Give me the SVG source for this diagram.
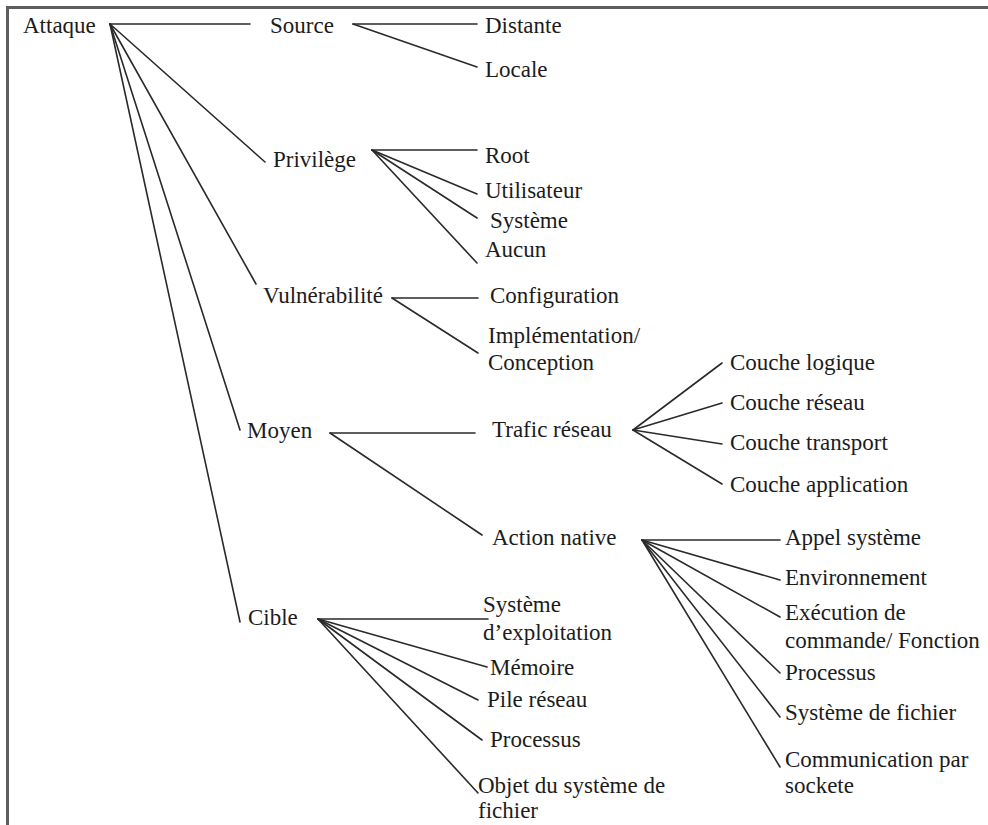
<svg xmlns="http://www.w3.org/2000/svg" width="988" height="825" viewBox="0 0 988 825">
<style>
  text { font-family: 'Liberation Serif', 'Times New Roman', Times, 'DejaVu Serif', serif; font-size: 23px; fill: #1c1c1c; }
  .c line { stroke: #2a2a2a; stroke-width: 1.6; stroke-linecap: round; }
  .frame { stroke: #5e5e5e; stroke-width: 3; fill: none; }
</style>
<rect width="988" height="825" fill="#ffffff"/>
<path class="frame" d="M7.5 825 V7.5 H988"/>
<g id="connectors" class="c">
  <line x1="110" y1="24" x2="250" y2="24"/>
  <line x1="110" y1="24" x2="265" y2="162"/>
  <line x1="110" y1="24" x2="256" y2="284"/>
  <line x1="110" y1="24" x2="240" y2="430"/>
  <line x1="110" y1="24" x2="240" y2="622"/>
  <line x1="353" y1="24" x2="477" y2="24"/>
  <line x1="353" y1="24" x2="477" y2="67"/>
  <line x1="372" y1="150" x2="477" y2="150"/>
  <line x1="372" y1="150" x2="477" y2="194"/>
  <line x1="372" y1="150" x2="477" y2="218"/>
  <line x1="372" y1="150" x2="477" y2="263"/>
  <line x1="392" y1="298" x2="478" y2="298"/>
  <line x1="392" y1="298" x2="478" y2="353"/>
  <line x1="330" y1="433" x2="475" y2="433"/>
  <line x1="330" y1="433" x2="482" y2="535"/>
  <line x1="633" y1="430" x2="722" y2="363"/>
  <line x1="633" y1="430" x2="722" y2="403"/>
  <line x1="633" y1="430" x2="722" y2="444"/>
  <line x1="633" y1="430" x2="722" y2="484"/>
  <line x1="642" y1="540" x2="780" y2="540"/>
  <line x1="642" y1="540" x2="780" y2="580"/>
  <line x1="642" y1="540" x2="780" y2="617"/>
  <line x1="642" y1="540" x2="780" y2="673"/>
  <line x1="642" y1="540" x2="780" y2="717"/>
  <line x1="642" y1="540" x2="780" y2="767"/>
  <line x1="318" y1="619" x2="488" y2="619"/>
  <line x1="318" y1="619" x2="487" y2="667"/>
  <line x1="318" y1="619" x2="478" y2="700"/>
  <line x1="318" y1="619" x2="482" y2="740"/>
  <line x1="318" y1="619" x2="478" y2="793"/>
</g>
<g id="attaque"><text x="23" y="33">Attaque</text></g>
<g id="source"><text x="270" y="33">Source</text></g>
<g id="distante"><text x="485" y="33">Distante</text></g>
<g id="locale"><text x="485" y="77">Locale</text></g>
<g id="privilege"><text x="273" y="167">Privilège</text></g>
<g id="root"><text x="485" y="163">Root</text></g>
<g id="utilisateur"><text x="485" y="198">Utilisateur</text></g>
<g id="systeme-priv"><text x="490" y="228">Système</text></g>
<g id="aucun"><text x="485" y="257">Aucun</text></g>
<g id="vulnerabilite"><text x="263" y="303">Vulnérabilité</text></g>
<g id="configuration"><text x="490" y="303">Configuration</text></g>
<g id="implementation"><text x="488" y="343">Implémentation/</text><text x="488" y="370">Conception</text></g>
<g id="moyen"><text x="247" y="438">Moyen</text></g>
<g id="trafic"><text x="492" y="437">Trafic réseau</text></g>
<g id="couche-logique"><text x="730" y="370">Couche logique</text></g>
<g id="couche-reseau"><text x="730" y="410">Couche réseau</text></g>
<g id="couche-transport"><text x="730" y="450">Couche transport</text></g>
<g id="couche-application"><text x="730" y="492">Couche application</text></g>
<g id="action-native"><text x="492" y="545">Action native</text></g>
<g id="appel-systeme"><text x="785" y="545">Appel système</text></g>
<g id="environnement"><text x="785" y="585">Environnement</text></g>
<g id="execution"><text x="785" y="620">Exécution de</text><text x="785" y="648">commande/ Fonction</text></g>
<g id="processus-an"><text x="785" y="680">Processus</text></g>
<g id="systeme-fichier"><text x="785" y="720">Système de fichier</text></g>
<g id="communication"><text x="785" y="767">Communication par</text><text x="785" y="793">sockete</text></g>
<g id="cible"><text x="248" y="625">Cible</text></g>
<g id="systeme-exploitation"><text x="483" y="612">Système</text><text x="483" y="640">d’exploitation</text></g>
<g id="memoire"><text x="490" y="675">Mémoire</text></g>
<g id="pile-reseau"><text x="487" y="707">Pile réseau</text></g>
<g id="processus-cible"><text x="490" y="747">Processus</text></g>
<g id="objet"><text x="478" y="793">Objet du système de</text><text x="478" y="818">fichier</text></g>
</svg>
